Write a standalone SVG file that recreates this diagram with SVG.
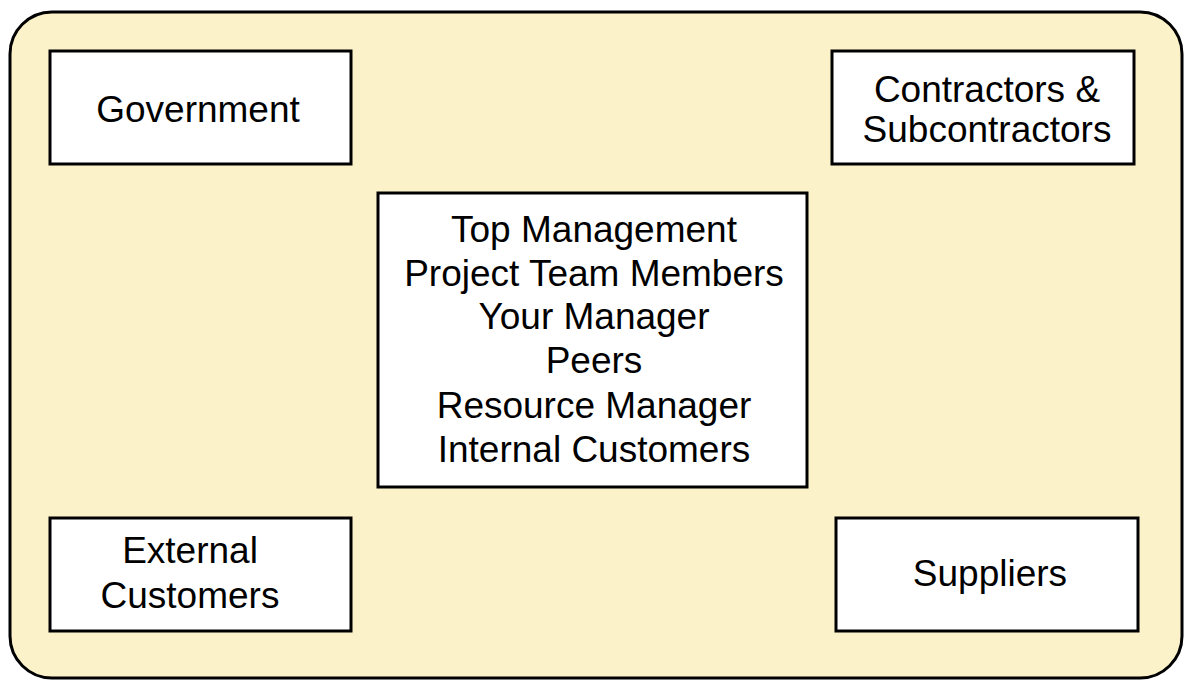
<svg xmlns="http://www.w3.org/2000/svg" width="1184" height="681" viewBox="0 0 1184 681">
<style>
.bg{fill:#FCF2CA;stroke:#000;stroke-width:3}
.box{fill:#fff;stroke:#000;stroke-width:3}
text{font-family:"Liberation Sans",Arial,sans-serif;font-size:37px;fill:#000;text-anchor:middle}
</style>
<rect width="1184" height="681" fill="#fff"/>
<rect class="bg" x="10" y="12" width="1172" height="666" rx="42" ry="42"/>
<g id="government">
<rect class="box" x="50" y="51" width="301" height="113"/>
<text x="198" y="122">Government</text>
</g>
<g id="contractors">
<rect class="box" x="832" y="51" width="302" height="113"/>
<text x="987" y="102">Contractors &amp;</text>
<text x="987" y="142">Subcontractors</text>
</g>
<g id="internal">
<rect class="box" x="378" y="193" width="429" height="294"/>
<text x="594" y="242">Top Management</text>
<text x="594" y="286">Project Team Members</text>
<text x="594" y="329">Your Manager</text>
<text x="594" y="373">Peers</text>
<text x="594" y="418">Resource Manager</text>
<text x="594" y="462">Internal Customers</text>
</g>
<g id="external">
<rect class="box" x="50" y="518" width="301" height="113"/>
<text x="190" y="563">External</text>
<text x="190" y="608">Customers</text>
</g>
<g id="suppliers">
<rect class="box" x="836" y="518" width="302" height="113"/>
<text x="990" y="586">Suppliers</text>
</g>
<g id="connectors"></g>
</svg>
